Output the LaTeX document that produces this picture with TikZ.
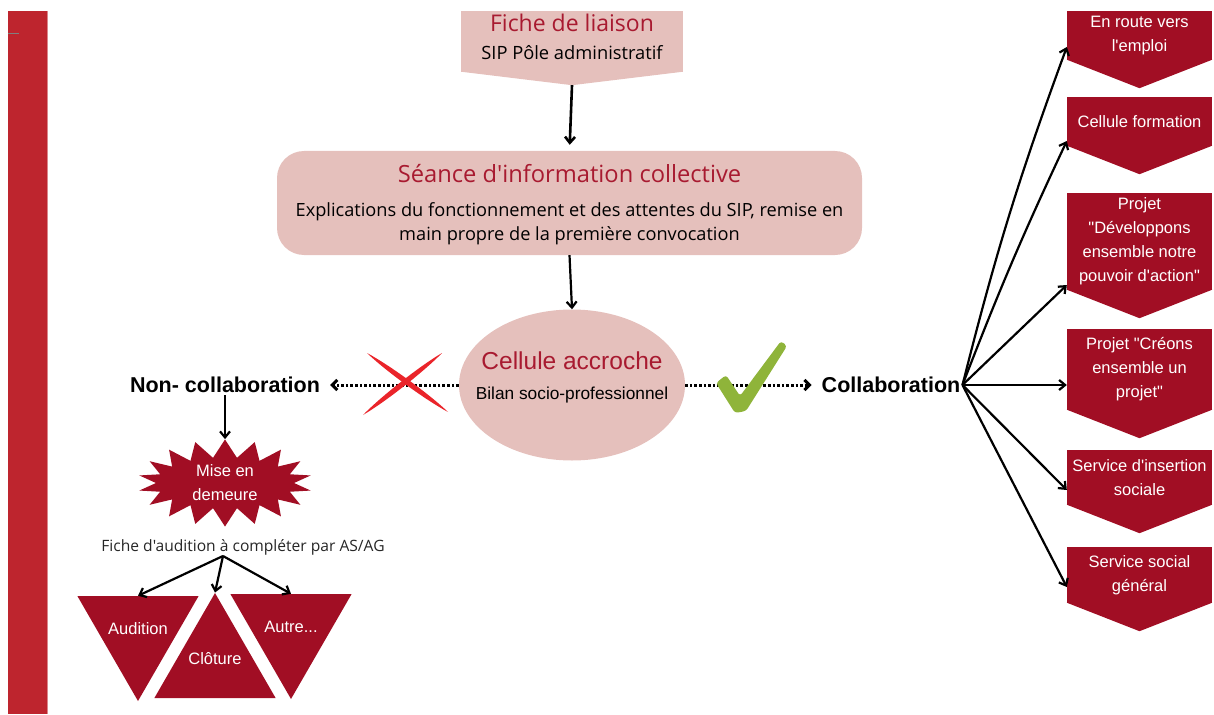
\documentclass[tikz,border=0pt]{standalone}
\usepackage{fontspec}
\setmainfont{Open Sans}[Ligatures=TeXOff]
\newfontfamily\arialfont{Liberation Sans}
\usepackage{xcolor}
\definecolor{barred}{RGB}{190,37,46}
\definecolor{rose}{RGB}{229,192,188}
\definecolor{titred}{RGB}{168,26,48}
\definecolor{bordeaux}{RGB}{161,14,36}
\definecolor{crossred}{RGB}{234,36,42}
\definecolor{checkgreen}{RGB}{143,180,58}
\usetikzlibrary{arrows.meta,shapes.geometric,shapes.symbols,positioning}

\tikzset{
  flow/.style={line width=2.2pt,-{Straight Barb[length=6pt,width=10pt]}},
  dots/.style={line width=3pt,dash pattern=on 2.6pt off 2pt,shorten >=8pt,
    -{Straight Barb[length=5pt,width=10pt]}},
  pinkbox/.style={fill=rose,inner sep=0pt},
  redbox/.style={fill=bordeaux,minimum width=145pt,inner sep=0pt},
  whitetxt/.style={text=white,font=\arialfont\fontsize{16.5}{24}\selectfont,align=center},
  tri/.style={fill=bordeaux,regular polygon,regular polygon sides=3,minimum size=140pt,inner sep=0pt},
  bigtxt/.style={font=\arialfont\bfseries\fontsize{21.5}{24}\selectfont,inner sep=2pt}
}

\begin{document}
\begin{tikzpicture}[x=1pt,y=-1pt]
  \useasboundingbox (0,0) rectangle (1214,714);

  % bandeau gauche
  \fill[barred] (8,11) rectangle (47,714);
  \draw[barred!55!white,line width=1pt] (47,11) -- (47,714);
  \draw[gray,line width=0.8pt] (8,33) -- (19,33);

  % colonne centrale
  \node[pinkbox,minimum width=222pt,minimum height=61pt,
    label={[yshift=5pt,align=center,font=\fontsize{18.3}{28}\selectfont]center:{\textcolor{titred}{\fontsize{23}{26}\selectfont Fiche de liaison}}\\SIP Pôle administratif}]
    (fiche) at (572,41.5) {};
  \fill[rose] ([yshift=0.5pt]fiche.south west) -- ([yshift=0.5pt]fiche.south east)
    -- ([yshift=-13pt]fiche.south) -- cycle;

  \node[pinkbox,rounded corners=27pt,minimum width=585pt,minimum height=104pt,
    label={[yshift=-2pt,align=center,font=\fontsize{18.2}{24}\selectfont]center:{\textcolor{titred}{\fontsize{23.7}{26}\selectfont Séance d'information collective}}\\[10pt]Explications du fonctionnement et des attentes du SIP, remise en\\main propre de la première convocation}]
    (seance) at (569.5,203) {};

  \node[ellipse,fill=rose,minimum width=226pt,minimum height=151pt,inner sep=0pt,
    label={[yshift=8pt,align=center,font=\arialfont\fontsize{17.3}{30}\selectfont]center:{\textcolor{titred}{\fontsize{24.5}{26}\selectfont Cellule accroche}}\\Bilan socio-professionnel}]
    (accroche) at (572,385) {};

  \draw[flow,line width=2.6pt,shorten >=6pt] ([yshift=-13pt]fiche.south) -- (seance.north);
  \draw[flow] (seance.south) -- (accroche.north);

  % deux issues
  \node[bigtxt] (noncollab) at (225,385) {Non- collaboration};
  \node[bigtxt] (collab) at (891,385) {Collaboration};
  \draw[dots] (accroche.west) -- (noncollab.east);
  \draw[dots] (accroche.east) -- (collab.west);

  % croix et coche
  \fill[crossred] (367,353) .. controls (385.2,370.6) and (425.7,400.1) .. (448,412)
    .. controls (429.8,394.4) and (389.3,364.9) .. cycle;
  \fill[crossred] (442,353) .. controls (420.1,365.75) and (380.6,396.75) .. (363,415)
    .. controls (384.9,402.25) and (424.4,371.25) .. cycle;
  \fill[checkgreen,rounded corners=3pt] (716,383) -- (726,375) -- (740,396) -- (781,341)
    -- (787,346) -- (746,411) -- (735,413) -- cycle;

  % branche non-collaboration
  \node[starburst,random starburst=0,starburst points=18,starburst point height=18pt,
    fill=bordeaux,minimum width=174pt,minimum height=87pt,inner sep=0pt,whitetxt]
    (mise) at (225,483) {Mise en\\demeure};
  \draw[flow] (noncollab.south) -- (mise.north);

  \node[font=\fontsize{15.6}{18}\selectfont,text=black!85] (audfiche) at (243,547)
    {Fiche d'audition à compléter par AS/AG};
  \coordinate (split) at (223,556);

  \node[tri,shape border rotate=180,label={[whitetxt,yshift=2pt]center:Audition}] (aud) at (138,631) {};
  \node[tri,label={[whitetxt,yshift=4pt]center:Clôture}] (clot) at (215,663) {};
  \node[tri,shape border rotate=180,label={[whitetxt,yshift=2pt]center:Autre...}] (autre) at (291,629) {};

  \draw[flow] (split) -- (aud.north);
  \draw[flow] (split) -- (clot.north);
  \draw[flow] (split) -- (autre.north);

  % branche collaboration
  \node[redbox,minimum height=49pt,whitetxt] (emploi) at (1139.5,35.5) {En route vers\\l'emploi};
  \node[redbox,minimum height=49pt,whitetxt] (formation) at (1139.5,121.5) {Cellule formation};
  \node[redbox,minimum height=97pt,whitetxt] (pouvoir) at (1139.5,241.5)
    {Projet\\"Développons\\ensemble notre\\pouvoir d'action"};
  \node[redbox,minimum height=81pt,whitetxt] (creons) at (1139.5,369.5)
    {Projet "Créons\\ensemble un\\projet"};
  \node[redbox,minimum height=55pt,whitetxt] (insertion) at (1139.5,477.5) {Service d'insertion\\sociale};
  \node[redbox,minimum height=56pt,whitetxt] (social) at (1139.5,575) {Service social\\général};

  \foreach \b in {emploi,formation,pouvoir,creons,insertion,social}
    \fill[bordeaux] ([yshift=0.5pt]\b.south west) -- ([yshift=0.5pt]\b.south east)
      -- ([yshift=-28pt]\b.south) -- cycle;

  \draw[flow] (collab.east) to[bend left=3] (emploi.west |- 0,47);
  \draw[flow] (collab.east) to[bend left=2] (formation.west |- 0,141);
  \draw[flow] (collab.east) -- (pouvoir.west |- 0,285);
  \draw[flow] (collab.east) -- (creons.west |- 0,385);
  \draw[flow] (collab.east) -- (insertion.west |- 0,490);
  \draw[flow] (collab.east) -- (social.west |- 0,587);
\end{tikzpicture}
\end{document}
